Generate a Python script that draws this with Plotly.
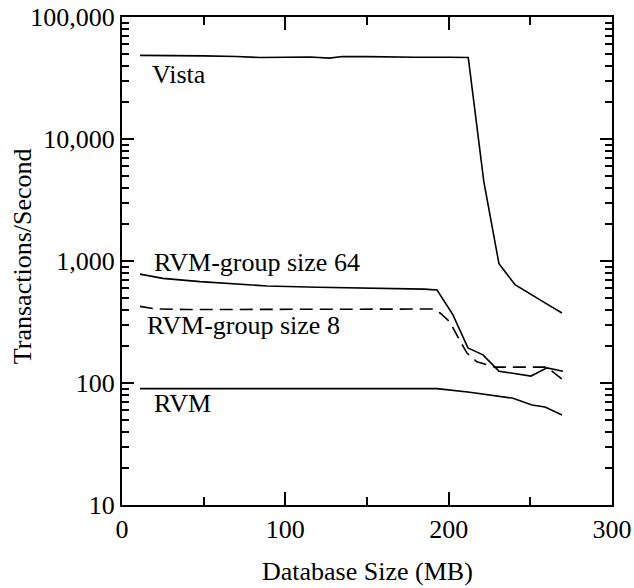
import plotly.graph_objects as go

# Database size (MB) and transactions/second
vista_x = [11, 30, 50, 70, 85, 100, 115, 127, 135, 150, 165, 180, 200, 212,
           221.5, 230.8, 240.6, 251.6, 260, 269.4]
vista_y = [48500, 48500, 48000, 47500, 46500, 46800, 47000, 46000, 47500, 47300,
           46800, 46800, 46800, 46500, 4500, 950, 640, 517, 445, 375]

rvm64_x = [11, 25, 47.8, 70, 88.8, 120, 150, 170, 185, 192.9, 202.7, 211.8, 221,
           230.8, 250.4, 260.2, 270]
rvm64_y = [780, 720, 677, 645, 624, 610, 600, 597, 588, 578, 360, 194, 170,
           125, 114, 133, 125]

rvm8_x = [11, 20, 40, 100, 150, 189.8, 194.7, 200.8, 205.7, 211.2, 217.3, 228.4,
          260.2, 270]
rvm8_y = [425, 405, 400, 400, 402, 404, 375, 316, 238, 176, 149, 135, 135, 106]

rvm_x = [11, 100, 192.9, 213, 239.4, 251, 259, 269.4]
rvm_y = [90, 90, 90, 84, 75, 66, 63.6, 54.7]

y_ticks = [10, 100, 1000, 10000, 100000]
y_labels = ["10", "100", "1,000", "10,000", "100,000"]
x_ticks = [0, 100, 200, 300]

# label, x, y, dash, label x (data), label y (log10)
series = [
    ("Vista", vista_x, vista_y, "solid", 17, 4.525),
    ("RVM-group size 64", rvm64_x, rvm64_y, "solid", 18.4, 2.984),
    ("RVM-group size 8", rvm8_x, rvm8_y, "13px,7px", 14, 2.475),
    ("RVM", rvm_x, rvm_y, "solid", 18.4, 1.836),
]

font = "Liberation Serif"
fsize = 26

fig = go.Figure()
for name, xs, ys, dash, lx, ly in series:
    fig.add_trace(go.Scatter(x=xs, y=ys, mode="lines", name=name,
                             line=dict(color="black", width=1.6, dash=dash)))
    fig.add_annotation(x=lx, y=ly, xref="x", yref="y", text=name,
                       showarrow=False, xanchor="left", yanchor="middle",
                       font=dict(family=font, size=fsize, color="black"))

# axis titles placed by hand
fig.add_annotation(x=0.5, y=-0.137, xref="paper", yref="paper",
                   text="Database Size (MB)", showarrow=False,
                   xanchor="center", yanchor="middle",
                   font=dict(family=font, size=fsize, color="black"))
fig.add_annotation(x=-0.204, y=0.51, xref="paper", yref="paper",
                   text="Transactions/Second", showarrow=False, textangle=-90,
                   xanchor="center", yanchor="middle",
                   font=dict(family=font, size=fsize, color="black"))

fig.update_layout(
    width=634, height=588,
    margin=dict(l=122, r=22, t=17, b=83),
    plot_bgcolor="white", paper_bgcolor="white",
    showlegend=False,
    font=dict(family=font, size=fsize, color="black"),
)
fig.update_xaxes(
    range=[0, 300], tickvals=x_ticks, ticks="inside", ticklen=13, tickwidth=1.5,
    tickcolor="black", showline=True, linecolor="black", linewidth=2,
    mirror="allticks", showgrid=False, zeroline=False, automargin=False,
    minor=dict(dtick=50, ticks="inside", ticklen=8, tickwidth=1.5, tickcolor="black", showgrid=False),
)
fig.update_yaxes(
    type="log", range=[1, 5], tickvals=y_ticks, ticktext=y_labels,
    ticks="inside", ticklen=12, tickwidth=1.5, tickcolor="black",
    showline=True, linecolor="black", linewidth=2, mirror="allticks",
    showgrid=False, zeroline=False, automargin=False,
    minor=dict(dtick="D1", ticks="inside", ticklen=7, tickwidth=1.5, tickcolor="black", showgrid=False),
)

# the page's default 8px body margin would push the figure off the window
fig.write_html("out.html", config={"displayModeBar": False},
               post_script="document.body.style.margin = '0';")
